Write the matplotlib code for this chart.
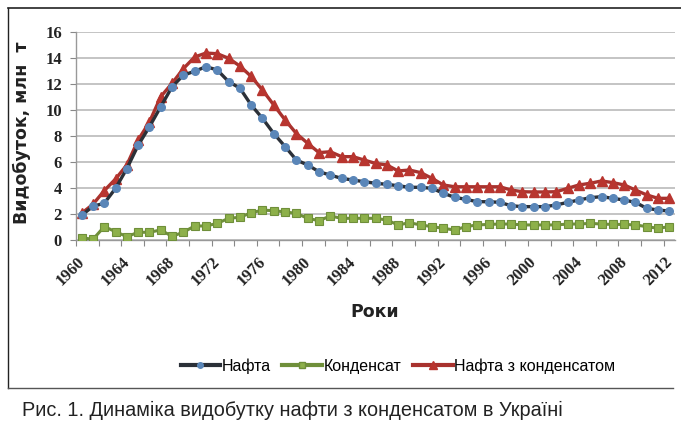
import matplotlib
matplotlib.use("Agg")
import matplotlib.pyplot as plt
from matplotlib.lines import Line2D

years = list(range(1960, 2013))
oil = [1.9, 2.6, 2.83, 3.98, 5.5, 7.3, 8.73, 10.27, 11.8, 12.7,
       13.0, 13.35, 13.1, 12.2, 11.7, 10.4, 9.37, 8.2, 7.2, 6.16,
       5.78, 5.26, 5.0, 4.75, 4.62, 4.49, 4.37, 4.29, 4.18, 4.06,
       4.06, 3.98, 3.6, 3.29, 3.13, 2.95, 2.95, 2.9, 2.64, 2.57,
       2.57, 2.57, 2.7, 2.9, 3.08, 3.26, 3.34, 3.21, 3.08, 2.9,
       2.44, 2.31, 2.23]
condensate = [0.18, 0.05, 1.03, 0.64, 0.26, 0.59, 0.6, 0.77, 0.28, 0.6,
              1.08, 1.08, 1.28, 1.67, 1.75, 2.1, 2.3, 2.26, 2.16, 2.05,
              1.67, 1.49, 1.85, 1.67, 1.67, 1.67, 1.67, 1.54, 1.16, 1.33,
              1.16, 1.03, 0.9, 0.77, 1.03, 1.16, 1.2, 1.23, 1.23, 1.16,
              1.16, 1.16, 1.16, 1.23, 1.23, 1.28, 1.23, 1.2, 1.2, 1.16,
              1.03, 0.9, 1.03]
total = [2.06, 2.75, 3.8, 4.7, 5.78, 7.7, 9.1, 11.04, 12.07, 13.2,
         14.1, 14.4, 14.35, 14.0, 13.4, 12.6, 11.55, 10.4, 9.25, 8.2,
         7.45, 6.73, 6.8, 6.42, 6.42, 6.16, 5.9, 5.78, 5.32, 5.39,
         5.19, 4.75, 4.24, 4.1, 4.1, 4.1, 4.1, 4.1, 3.85, 3.72,
         3.7, 3.7, 3.72, 3.98, 4.24, 4.37, 4.55, 4.42, 4.24, 3.85,
         3.47, 3.21, 3.21]
label_years = list(range(1960, 2013, 4))
y_ticks = list(range(0, 17, 2))
series_names = ["Нафта", "Конденсат", "Нафта з конденсатом"]
ylabel = "Видобуток, млн  т"
xlabel = "Роки"
caption = "Рис. 1. Динаміка видобутку нафти з конденсатом в Україні"

W, H = 681, 432
fig = plt.figure(figsize=(W / 100, H / 100), dpi=100)

# outer frame lines
fig.add_artist(Line2D([8 / W, 8 / W], [1 - 8 / H, 1 - 388 / H], color="#222222", lw=1.0))
fig.add_artist(Line2D([8 / W, 1.0], [1 - 8 / H, 1 - 8 / H], color="#222222", lw=1.2))
fig.add_artist(Line2D([8 / W, 673 / W], [1 - 388 / H, 1 - 388 / H], color="#555555", lw=1.0))

ax = fig.add_axes([76 / W, 1 - 240 / H, (675 - 76) / W, (240 - 32.3) / H])

ax.plot(years, condensate, color="#6f8f3a", lw=2.2, marker="s", ms=6,
        mfc="#8db04a", mec="#6f8f3a", mew=0.8, zorder=3)
ax.plot(years, oil, color="#2b3038", lw=2.4, marker="o", ms=5.5,
        mfc="#5a86b8", mec="#5a86b8", zorder=4)
ax.plot(years, total, color="#a8322e", lw=2.4, marker="^", ms=7.5,
        mfc="#b8352f", mec="#b8352f", zorder=2)

ax.set_xlim(1959.5, 2012.5)
ax.set_ylim(0, 16)
ax.set_yticks(y_ticks)
ax.set_yticklabels([str(v) for v in y_ticks], family="Liberation Serif",
                   fontsize=12, fontweight="bold", color="#222222")
ax.set_xticks([y - 0.5 for y in range(1960, 2014, 2)])
ax.set_xticklabels([])
ax.tick_params(axis="x", length=4, color="#888888", direction="out")
ax.tick_params(axis="y", length=4, color="#888888", direction="out", pad=6)
ax.grid(axis="y", color="#c4c4c4", lw=1.4)
ax.set_axisbelow(True)
for s in ["top", "right"]:
    ax.spines[s].set_visible(False)
for s in ["left", "bottom"]:
    ax.spines[s].set_color("#999999")
    ax.spines[s].set_linewidth(1.0)

for yr in label_years:
    ax.text(yr - 0.45, -1.1, str(yr), rotation=45, ha="right", va="top",
            rotation_mode="anchor", family="Liberation Serif",
            fontsize=12, fontweight="bold", color="#222222")

fig.text(22 / W, 1 - 133 / H, ylabel, rotation=90, ha="center", va="center",
         fontsize=12.5, fontweight="bold", color="#222222", family="DejaVu Sans")
fig.text(375 / W, 1 - 312 / H, xlabel, ha="center", va="center",
         fontsize=12.5, fontweight="bold", color="#222222", family="DejaVu Sans")

handles = [
    Line2D([], [], color="#2b3038", lw=3, marker="o", ms=4, mfc="#5a86b8", mec="#5a86b8"),
    Line2D([], [], color="#6f8f3a", lw=3, marker="s", ms=4.5, mfc="#8db04a", mec="#6f8f3a"),
    Line2D([], [], color="#a8322e", lw=3, marker="^", ms=5.5, mfc="#b8352f", mec="#b8352f"),
]
fig.legend(handles, series_names, loc="center", bbox_to_anchor=(398 / W, 1 - 366 / H),
           ncol=3, frameon=False, handlelength=2.5, handletextpad=0.1, columnspacing=0.7,
           prop={"family": "Liberation Sans", "size": 11.5})

fig.text(22 / W, 1 - 410 / H, caption, ha="left", va="center",
         fontsize=14.3, color="#222222", family="Liberation Sans")

fig.savefig("out.png", dpi=100)
